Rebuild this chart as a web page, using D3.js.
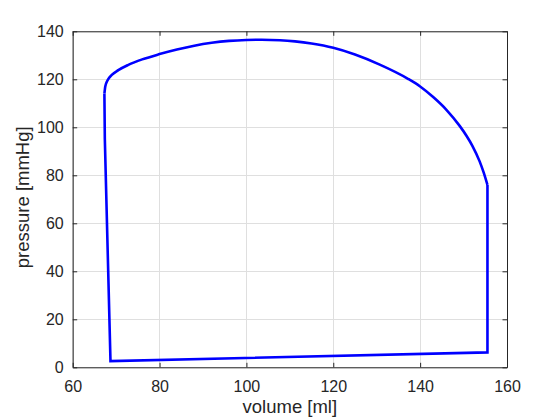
<!DOCTYPE html>
<html>
<head>
<meta charset="utf-8">
<script src="https://cdn.jsdelivr.net/npm/d3@7"></script>
<style>
  html, body { margin: 0; padding: 0; background: #fff; }
  svg { display: block; font-family: "Liberation Sans", Arial, Helvetica, sans-serif; }
</style>
</head>
<body>
<svg id="chart" width="560" height="420"></svg>
<script>
// Ejection phase (sorted by volume)
const ejectVolume   = [67.3, 67.5, 68.0, 69.0, 70.5, 72.8, 76.0, 80.0, 84.0, 88.0, 92.0, 96.0, 100.0, 103.5, 107.7, 111.2, 115.0, 120.0, 125.0, 130.7, 137.2, 140.0, 143.0, 146.1, 149.1, 150.7, 152.0, 153.7, 154.6, 155.5];
const ejectPressure = [114.0, 117.0, 119.5, 121.8, 123.8, 126.0, 128.3, 130.5, 132.4, 134.0, 135.2, 136.0, 136.4, 136.5, 136.3, 135.8, 134.9, 133.1, 130.3, 126.1, 120.2, 117.0, 112.6, 107.2, 100.6, 96.4, 92.4, 85.8, 81.3, 76.0];
// Relaxation, filling and isovolumic contraction (straight segments)
const otherVolume   = [67.3, 67.4, 68.7, 155.5, 155.5];
const otherPressure = [114.0, 95.0, 2.6, 6.2, 76.0];
// Axis ticks
const xTicks = [60, 80, 100, 120, 140, 160];
const yTicks = [0, 20, 40, 60, 80, 100, 120, 140];
const xLabel = "volume [ml]";
const yLabel = "pressure [mmHg]";

const svg = d3.select("#chart");
const m = { left: 72.7, right: 507, top: 31.3, bottom: 367.3 };
const x = d3.scaleLinear().domain([60, 160]).range([m.left, m.right]);
const y = d3.scaleLinear().domain([0, 140]).range([m.bottom, m.top]);
const axisColor = "#262626";

// grid
const grid = svg.append("g");
grid.selectAll("line.gx").data(xTicks).join("line")
  .attr("x1", d => x(d)).attr("x2", d => x(d))
  .attr("y1", m.top).attr("y2", m.bottom)
  .attr("stroke", "#dfdfdf").attr("stroke-width", 1).attr("shape-rendering", "crispEdges");
grid.selectAll("line.gy").data(yTicks).join("line")
  .attr("y1", d => y(d)).attr("y2", d => y(d))
  .attr("x1", m.left).attr("x2", m.right)
  .attr("stroke", "#dfdfdf").attr("stroke-width", 1).attr("shape-rendering", "crispEdges");

// axes (MATLAB style, inward ticks, box)
const tickLen = 4.5;
const xAxisB = d3.axisBottom(x).tickValues(xTicks).tickSizeInner(-tickLen).tickSizeOuter(0).tickPadding(13);
const xAxisT = d3.axisTop(x).tickValues(xTicks).tickSizeInner(-tickLen).tickSizeOuter(0).tickFormat("");
const yAxisL = d3.axisLeft(y).tickValues(yTicks).tickSizeInner(-tickLen).tickSizeOuter(0).tickPadding(9);
const yAxisR = d3.axisRight(y).tickValues(yTicks).tickSizeInner(-tickLen).tickSizeOuter(0).tickFormat("");

function style(g) {
  g.select(".domain").attr("stroke", axisColor).attr("stroke-width", 1);
  g.selectAll(".tick line").attr("stroke", axisColor).attr("stroke-width", 1);
  g.selectAll(".tick text").attr("fill", axisColor).attr("font-size", 16)
    .attr("font-family", "'Liberation Sans', Arial, sans-serif");
}
svg.append("g").attr("transform", `translate(0,${m.bottom})`).call(xAxisB).call(style);
svg.append("g").attr("transform", `translate(0,${m.top})`).call(xAxisT).call(style);
svg.append("g").attr("transform", `translate(${m.left},0)`).call(yAxisL).call(style);
svg.append("g").attr("transform", `translate(${m.right},0)`).call(yAxisR).call(style);

// data lines
const ejectData = ejectVolume.map((v, i) => [v, ejectPressure[i]]);
const otherData = otherVolume.map((v, i) => [v, otherPressure[i]]);
const curve = d3.line().x(d => x(d[0])).y(d => y(d[1])).curve(d3.curveMonotoneX);
const lin = d3.line().x(d => x(d[0])).y(d => y(d[1]));
svg.append("path").attr("d", curve(ejectData)).attr("fill", "none")
  .attr("stroke", "#0000ff").attr("stroke-width", 2.6).attr("stroke-linejoin", "round");
svg.append("path").attr("d", lin(otherData)).attr("fill", "none")
  .attr("stroke", "#0000ff").attr("stroke-width", 2.6).attr("stroke-linejoin", "miter");

// labels
svg.append("text").attr("x", (m.left + m.right) / 2).attr("y", 413)
  .attr("text-anchor", "middle").attr("font-size", 18.5).attr("fill", axisColor).text(xLabel);
svg.append("text").attr("transform", `translate(29,${(m.top + m.bottom) / 2 - 2}) rotate(-90)`)
  .attr("text-anchor", "middle").attr("font-size", 18.5).attr("fill", axisColor).text(yLabel);
</script>
</body>
</html>
